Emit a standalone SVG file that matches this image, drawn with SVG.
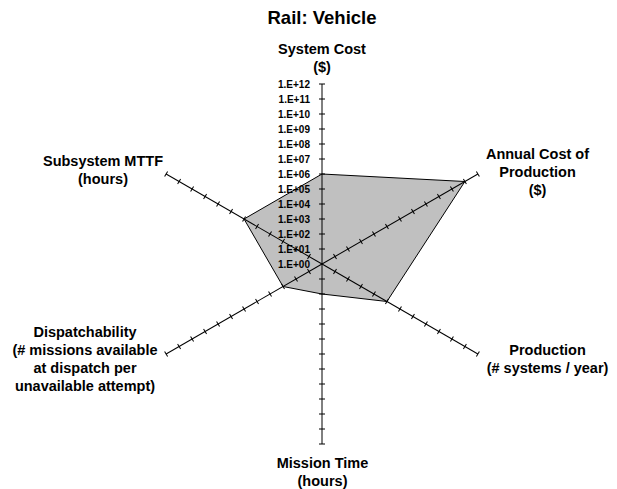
<svg xmlns="http://www.w3.org/2000/svg" xmlns:xlink="http://www.w3.org/1999/xlink" width="617" height="489" viewBox="0 0 617 489">
  <style>
    text { font-family: "Liberation Sans", Arial, sans-serif; font-weight: bold; fill: #000; }
    .title { font-size: 18.5px; text-anchor: middle; }
    .axis-label { font-size: 14.5px; text-anchor: middle; }
    .tick-label { font-size: 10px; text-anchor: end; }
    .axis line { stroke: #000; stroke-width: 1; }
    .area { fill: #c0c0c0; stroke: #000; stroke-width: 1; stroke-linejoin: miter; }
  </style>
  <defs>
    <!-- one spoke of the radar: 12 steps of 15px, a tick at every step -->
    <g id="spoke" class="axis">
      <line x1="0" y1="0" x2="0" y2="-180"/>
      <line x1="-3" y1="-15" x2="3" y2="-15"/>
      <line x1="-3" y1="-30" x2="3" y2="-30"/>
      <line x1="-3" y1="-45" x2="3" y2="-45"/>
      <line x1="-3" y1="-60" x2="3" y2="-60"/>
      <line x1="-3" y1="-75" x2="3" y2="-75"/>
      <line x1="-3" y1="-90" x2="3" y2="-90"/>
      <line x1="-3" y1="-105" x2="3" y2="-105"/>
      <line x1="-3" y1="-120" x2="3" y2="-120"/>
      <line x1="-3" y1="-135" x2="3" y2="-135"/>
      <line x1="-3" y1="-150" x2="3" y2="-150"/>
      <line x1="-3" y1="-165" x2="3" y2="-165"/>
      <line x1="-3" y1="-180" x2="3" y2="-180"/>
    </g>
  </defs>

  <rect width="617" height="489" fill="#fff"/>

  <text class="title" x="322" y="24">Rail: Vehicle</text>

  <!-- data series (log scale, one decade per step) -->
  <g id="series">
    <polygon class="area" points="322,174 464.89,181.5 386.95,301.5 322,294 283.05,286.5 244.06,219"/>
  </g>

  <!-- spokes -->
  <g id="axes" transform="translate(322,264)">
    <use id="axis-system-cost" xlink:href="#spoke" href="#spoke"/>
    <use id="axis-annual-cost" xlink:href="#spoke" href="#spoke" transform="rotate(60)"/>
    <use id="axis-production" xlink:href="#spoke" href="#spoke" transform="rotate(120)"/>
    <use id="axis-mission-time" xlink:href="#spoke" href="#spoke" transform="rotate(180)"/>
    <use id="axis-dispatchability" xlink:href="#spoke" href="#spoke" transform="rotate(240)"/>
    <use id="axis-mttf" xlink:href="#spoke" href="#spoke" transform="rotate(300)"/>
  </g>

  <!-- value scale along the vertical spoke -->
  <g id="scale">
    <text class="tick-label" x="310" y="267.5">1.E+00</text>
    <text class="tick-label" x="310" y="252.5">1.E+01</text>
    <text class="tick-label" x="310" y="237.5">1.E+02</text>
    <text class="tick-label" x="310" y="222.5">1.E+03</text>
    <text class="tick-label" x="310" y="207.5">1.E+04</text>
    <text class="tick-label" x="310" y="192.5">1.E+05</text>
    <text class="tick-label" x="310" y="177.5">1.E+06</text>
    <text class="tick-label" x="310" y="162.5">1.E+07</text>
    <text class="tick-label" x="310" y="147.5">1.E+08</text>
    <text class="tick-label" x="310" y="132.5">1.E+09</text>
    <text class="tick-label" x="310" y="117.5">1.E+10</text>
    <text class="tick-label" x="310" y="102.5">1.E+11</text>
    <text class="tick-label" x="310" y="87.5">1.E+12</text>
  </g>

  <!-- spoke captions -->
  <g id="label-system-cost">
    <text class="axis-label" x="322" y="54">System Cost</text>
    <text class="axis-label" x="322" y="72">($)</text>
  </g>
  <g id="label-annual-cost">
    <text class="axis-label" x="537.5" y="158.5">Annual Cost of</text>
    <text class="axis-label" x="537.5" y="176.5">Production</text>
    <text class="axis-label" x="537.5" y="194.5">($)</text>
  </g>
  <g id="label-production">
    <text class="axis-label" x="547.5" y="354.5">Production</text>
    <text class="axis-label" x="547.5" y="372.5">(# systems / year)</text>
  </g>
  <g id="label-mission-time">
    <text class="axis-label" x="322.5" y="467.5">Mission Time</text>
    <text class="axis-label" x="322.5" y="485.5">(hours)</text>
  </g>
  <g id="label-dispatchability">
    <text class="axis-label" x="85" y="336.5">Dispatchability</text>
    <text class="axis-label" x="85" y="354.5">(# missions available</text>
    <text class="axis-label" x="85" y="372.5">at dispatch per</text>
    <text class="axis-label" x="85" y="390.5">unavailable attempt)</text>
  </g>
  <g id="label-mttf">
    <text class="axis-label" x="103" y="166">Subsystem MTTF</text>
    <text class="axis-label" x="103" y="184">(hours)</text>
  </g>
</svg>
